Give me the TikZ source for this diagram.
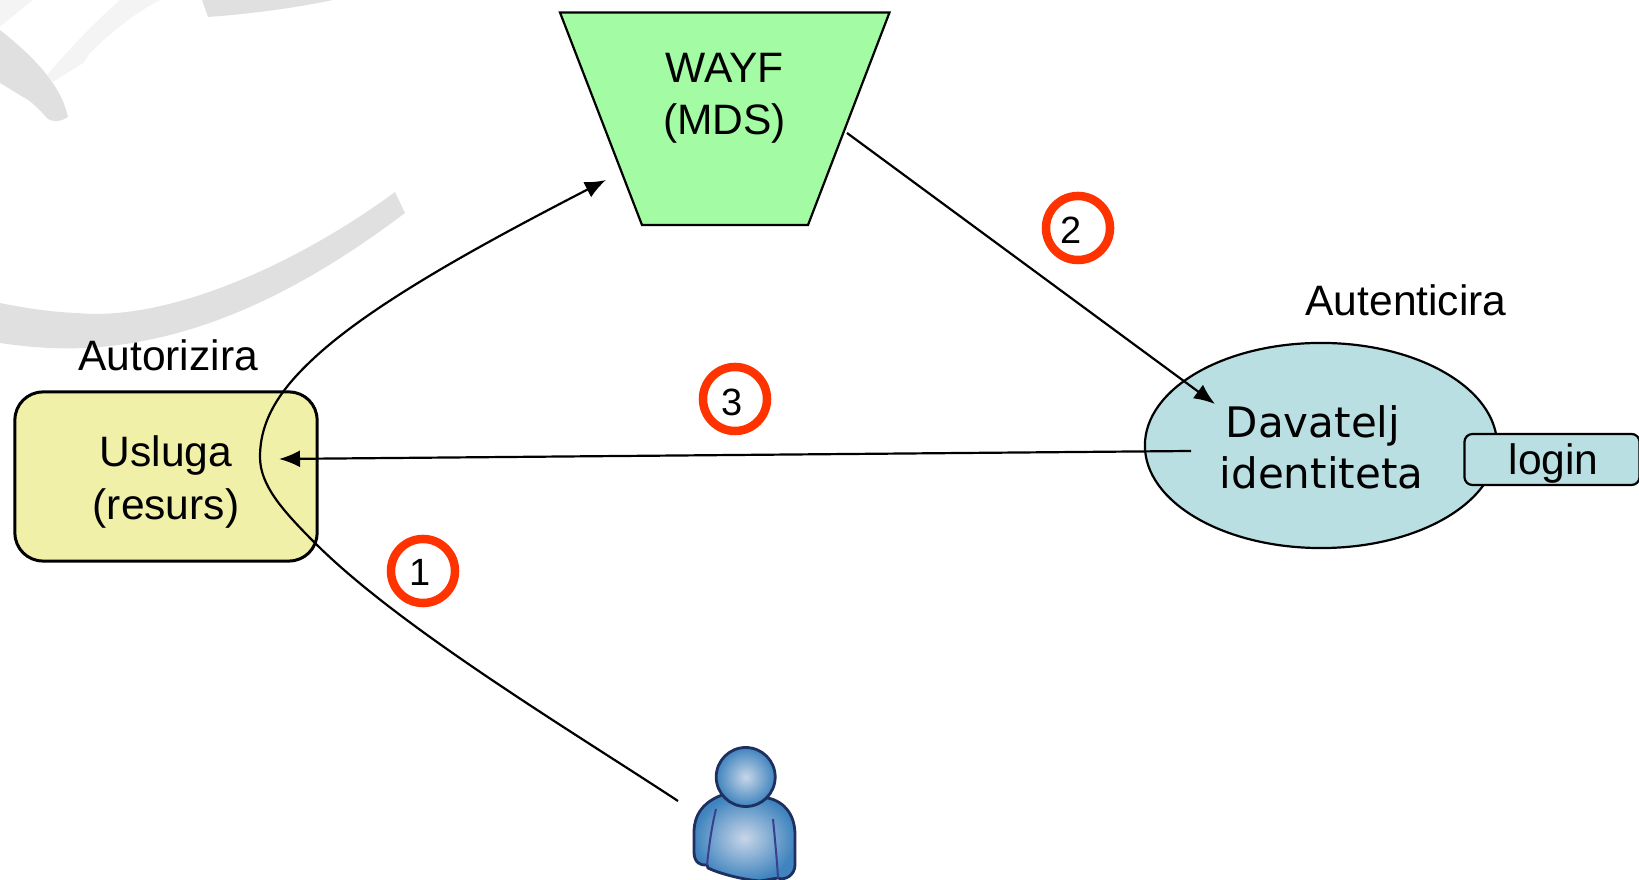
\documentclass[tikz,border=0pt]{standalone}
\usepackage{fontspec}
\setmainfont{Liberation Sans}
\newfontfamily\davatfont{DejaVu Sans}
\usetikzlibrary{arrows.meta,shapes.geometric}
\definecolor{swoosh}{HTML}{E0E0E0}
\definecolor{swooshlight}{HTML}{F4F4F4}
\definecolor{wayfgreen}{HTML}{A3FCA3}
\definecolor{uslugayellow}{HTML}{F0F0A8}
\definecolor{idpblue}{HTML}{B9DFE3}
\definecolor{badgered}{HTML}{FF3300}
\definecolor{personedge}{HTML}{1F2F5F}
\definecolor{personseam}{HTML}{3B3F8F}
\definecolor{personlight}{HTML}{C8D6E8}
\definecolor{persondark}{HTML}{3F84BE}
\tikzset{
	label/.style={font=\fontsize{12.1}{14.8}\selectfont, align=center, inner sep=0pt},
	idplabel/.style={font=\davatfont\fontsize{11.95}{14.5}\selectfont, align=center, inner sep=0pt},
	badge/.style={circle, draw=badgered, line width=0.85mm, fill=white, minimum size=0.64cm, inner sep=0pt},
	badgenum/.style={font=\fontsize{10.8}{12}\selectfont, inner sep=0pt},
	flow/.style={line width=0.22mm, black},
	flowtip/.style={flow, -{Latex[length=0.21cm,width=0.17cm]}},
	personfill/.style={draw=personedge, line width=0.28mm, inner color=personlight, outer color=persondark},
}

\begin{document}
\begin{tikzpicture}[x=0.01cm,y=-0.01cm]
	\useasboundingbox (0,0) rectangle (1639,880);
	%%%%% BACKGROUND %%%%%

	\fill[swoosh] (395,192) .. controls (300,262) and (170,322) .. (77,313) .. controls (50,312) and (25,308) .. (0,303) -- (0,343) .. controls (60,352) and (110,350) .. (170,335) .. controls (260,312) and (340,262) .. (405,213) -- cycle;
	\fill[swoosh] (202,0) -- (208,17) .. controls (250,14) and (295,8) .. (333,0) -- cycle;
	\fill[swoosh] (0,30) .. controls (25,50) and (60,80) .. (68,117) .. controls (62,121) and (55,123) .. (48,119) .. controls (40,110) and (30,100) .. (23,97) -- (0,83) -- cycle;
	\fill[swooshlight] (47,75) .. controls (70,48) and (95,22) .. (120,0) -- (160,0) .. controls (135,13) and (110,33) .. (90,53) .. controls (85,60) and (85,63) .. (80,65) -- (53,82) -- cycle;
	\fill[swooshlight] (0,0) -- (33,0) -- (2,25) -- (0,27) -- cycle;

	%%%%% SHAPES %%%%%

	\draw[fill=wayfgreen, line width=0.22mm] (560,12.5) -- (889.5,12.5) -- (808,225) -- (642,225) -- cycle;
	\node[label] (wayf) at (724.5,98.5) {WAYF\\(MDS)};

	\node[draw, fill=uslugayellow, line width=0.3mm, rounded corners=0.28cm, minimum width=3.02cm, minimum height=1.69cm] (usluga) at (166,476.5) {};
	\node[label] (uslugatext) at (166,482) {Usluga\\(resurs)};
	\node[label] (autorizira) at (168,355.5) {Autorizira};

	\node[ellipse, draw, fill=idpblue, line width=0.22mm, minimum width=3.52cm, minimum height=2.05cm] (idp) at (1321,445.5) {};
	\node[idplabel] (idptext) at (1321.5,447) {Davatelj\rule{0.17cm}{0pt}\\identiteta};
	\node[label] (autenticira) at (1406,300) {Autenticira};

	\node[draw, fill=idpblue, line width=0.22mm, rounded corners=0.08cm, minimum width=1.75cm, minimum height=0.51cm] (login) at (1552,459.5) {};
	\node[label] (logintext) at (1553.5,464) {login};

	%%%%% PERSON %%%%%

	\shade[personfill] (722,795) .. controls (695,805) and (694,825) .. (694,833) -- (694,852) .. controls (694,862) and (700,866) .. (707,865) -- (708,868) .. controls (720,874) and (745,880) .. (760,881) -- (778,878) .. controls (785,881) and (795,875) .. (795,865) -- (795,835) .. controls (795,815) and (785,802) .. (768,798) -- cycle;
	\draw[personseam, line width=0.2mm] (716,809) .. controls (712,825) and (709,845) .. (707,865);
	\draw[personseam, line width=0.2mm] (773,819) .. controls (775,840) and (777,860) .. (778,878);
	\shade[personfill] (745.7,777) circle (29.5);

	%%%%% CONNECTORS %%%%%

	\coordinate (userend) at (678,801);
	\coordinate (wayfin) at (606,180);
	\coordinate (wayfout) at (847,133);
	\coordinate (idpin) at (1215,404);
	\coordinate (idpout) at (1191,451);
	\coordinate (uslugain) at (279,459);

	\draw[flowtip] (userend) .. controls (570,730) and (400,628) .. (315,543) .. controls (282,510) and (260,485) .. (260,457) .. controls (260,420) and (280,390) .. (312,360) .. controls (370,305) and (480,245) .. (wayfin);
	\draw[flowtip] (wayfout) -- (idpin);
	\draw[flowtip] (idpout) -- (uslugain);

	%%%%% BADGES %%%%%

	\node[badge] (badgeone) at (423,571) {};
	\node[badgenum] (numone) at (420,572) {1};
	\node[badge] (badgetwo) at (1078,228) {};
	\node[badgenum] (numtwo) at (1071,230) {2};
	\node[badge] (badgethree) at (735,399) {};
	\node[badgenum] (numthree) at (732,402) {3};

	%%%%% END %%%%%
\end{tikzpicture}
\end{document}
